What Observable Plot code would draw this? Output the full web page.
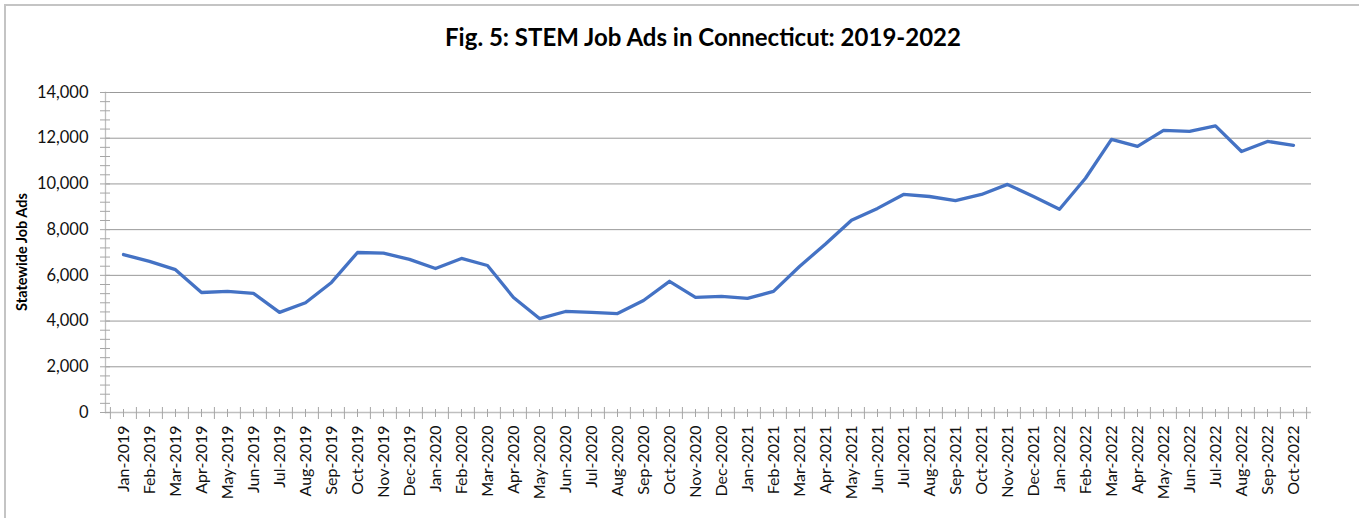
<!DOCTYPE html>
<html>
<head>
<meta charset="utf-8">
<script src="https://cdn.jsdelivr.net/npm/d3@7"></script>
<script src="https://cdn.jsdelivr.net/npm/@observablehq/plot@0.6"></script>
<style>
  html, body { margin: 0; padding: 0; background: #fff; }
  #wrap { position: relative; width: 1359px; height: 518px; overflow: hidden; font-family: Lato, "Open Sans", sans-serif; }
  #btop { position: absolute; left: 4px; top: 4px; width: 1355px; height: 2px; background: #c4c4c4; }
  #bleft { position: absolute; left: 4px; top: 4px; width: 2px; height: 514px; background: #c4c4c4; }
  #title { position: absolute; left: 353px; width: 700px; top: 21px; text-align: center; font-weight: bold; font-size: 24px; color: #000; line-height: 32px; }
  #ylab { position: absolute; left: 22px; top: 252px; transform: translate(-50%, -50%) rotate(-90deg); white-space: nowrap; font-weight: bold; font-size: 14.5px; color: #000; line-height: 16px; }
  #chart { position: absolute; left: 0; top: 70px; }
</style>
</head>
<body>
<div id="wrap">
  <div id="btop"></div>
  <div id="bleft"></div>
  <div id="title">Fig. 5: STEM Job Ads in Connecticut: 2019-2022</div>
  <div id="ylab">Statewide Job Ads</div>
  <div id="chart"></div>
</div>
<script>
const months = [
  "Jan-2019","Feb-2019","Mar-2019","Apr-2019","May-2019","Jun-2019","Jul-2019","Aug-2019","Sep-2019","Oct-2019","Nov-2019","Dec-2019",
  "Jan-2020","Feb-2020","Mar-2020","Apr-2020","May-2020","Jun-2020","Jul-2020","Aug-2020","Sep-2020","Oct-2020","Nov-2020","Dec-2020",
  "Jan-2021","Feb-2021","Mar-2021","Apr-2021","May-2021","Jun-2021","Jul-2021","Aug-2021","Sep-2021","Oct-2021","Nov-2021","Dec-2021",
  "Jan-2022","Feb-2022","Mar-2022","Apr-2022","May-2022","Jun-2022","Jul-2022","Aug-2022","Sep-2022","Oct-2022"
];
const jobAds = [
  6910, 6610, 6250, 5250, 5300, 5210, 4380, 4800, 5690, 7000, 6970, 6700,
  6300, 6740, 6430, 5030, 4110, 4420, 4380, 4330, 4900, 5740, 5040, 5080,
  4990, 5300, 6390, 7370, 8410, 8930, 9540, 9450, 9270, 9540, 9980, 9450,
  8890, 10250, 11950, 11640, 12340, 12300, 12540, 11420, 11860, 11690
];
const yMajor = [0, 2000, 4000, 6000, 8000, 10000, 12000, 14000];
const yMinor = d3.range(0, 14001, 400);
const yGrid = yMajor.filter(v => v > 0);

const data = months.map((m, i) => ({month: m, value: jobAds[i]}));

const W = 1359, H = 448;
const mL = 105, mR = 48, mT = 22, mB = 106;
const step = (W - mL - mR) / months.length;

const tickColor = "#a6a6a6";

const chart = Plot.plot({
  width: W,
  height: H,
  marginLeft: mL,
  marginRight: mR,
  marginTop: mT,
  marginBottom: mB,
  style: {fontFamily: "Lato, 'Open Sans', sans-serif", fontSize: "16px", color: "#111", background: "transparent"},
  x: {type: "point", domain: months, padding: 0.5, label: null},
  y: {domain: [0, 14000], label: null},
  marks: [
    Plot.ruleY(yGrid, {stroke: "#999", strokeWidth: 1, strokeOpacity: 1}),
    Plot.ruleY([0], {stroke: "#bfbfbf", strokeWidth: 1.3}),
    Plot.frame({anchor: "left", stroke: "#bfbfbf", strokeWidth: 1.3}),
    // y minor + major ticks (crossing the axis)
    Plot.axisY({ticks: yMinor, tickSize: 10, dx: 5, text: null, stroke: tickColor, strokeOpacity: 1, label: null}),
    Plot.axisY({ticks: yMajor, tickSize: 0, tickPadding: 17, tickFormat: d3.format(","), fontSize: 16.5, fill: "#111", label: null}),
    // x center ticks
    Plot.axisX({tickSize: 8, dy: -3, text: null, stroke: tickColor, strokeOpacity: 1, label: null}),
    // x boundary ticks
    Plot.axisX({tickSize: 12, dy: -5, dx: -step / 2, text: null, stroke: tickColor, strokeOpacity: 1, label: null}),
    Plot.axisX({ticks: [months[months.length - 1]], tickSize: 12, dy: -5, dx: step / 2, text: null, stroke: tickColor, strokeOpacity: 1, label: null}),
    // x labels
    Plot.axisX({tickSize: 0, tickPadding: 13, tickRotate: -90, fontSize: 16, fill: "#111", label: null}),
    Plot.line(data, {x: "month", y: "value", stroke: "#4472C4", strokeWidth: 3.3, strokeLinejoin: "round", strokeLinecap: "round"})
  ]
});
document.getElementById("chart").appendChild(chart);
</script>
</body>
</html>
